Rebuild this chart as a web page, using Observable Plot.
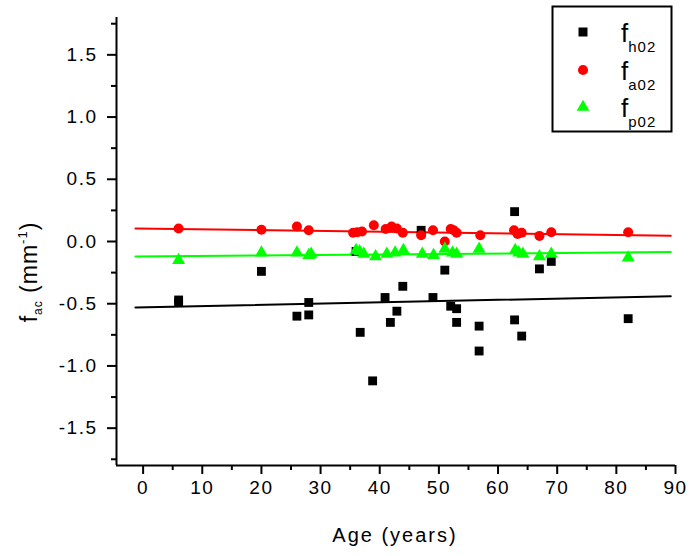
<!DOCTYPE html>
<html><head><meta charset="utf-8">
<script src="https://cdn.jsdelivr.net/npm/d3@7"></script>
<script src="https://cdn.jsdelivr.net/npm/@observablehq/plot@0.6"></script>
<style>
body{margin:0;background:#fff;}
#wrap{position:relative;width:690px;height:556px;}
svg text{letter-spacing:1.5px;}
</style></head><body><div id="wrap"></div>
<script>
// f_h02 (black squares)
const hAge = [6,6,20,26,28,28,36,36.7,38.8,40.9,41.8,42.9,43.9,47,49,51,52,53,53,56.8,56.8,62.8,62.8,64,67,69,82];
const hVal = [-0.47,-0.49,-0.24,-0.60,-0.49,-0.59,-0.08,-0.73,-1.12,-0.45,-0.65,-0.56,-0.36,0.09,-0.45,-0.23,-0.52,-0.54,-0.65,-0.68,-0.88,0.24,-0.63,-0.76,-0.22,-0.16,-0.62];
// f_a02 (red circles)
const aAge = [6,20,26,28,35.5,36.2,37,39,41,42,42.9,43.9,47,49,51,52,52.5,53,57,62.7,63.3,64,67,69,82];
const aVal = [0.105,0.095,0.12,0.09,0.07,0.075,0.08,0.13,0.10,0.12,0.105,0.07,0.05,0.09,0.0,0.10,0.09,0.07,0.05,0.09,0.06,0.07,0.045,0.075,0.075];
// f_p02 (green triangles)
const pAge = [6,20,26,28,28.4,36,36.6,37.3,39.3,41.2,42.6,44,47.2,49.1,51,52.3,53,56.8,62.9,63.5,64.2,67,69,82];
const pVal = [-0.15,-0.09,-0.09,-0.11,-0.10,-0.07,-0.08,-0.10,-0.12,-0.10,-0.09,-0.07,-0.10,-0.11,-0.06,-0.09,-0.10,-0.06,-0.07,-0.09,-0.10,-0.12,-0.10,-0.13];
// linear fit lines (endpoints)
const fitX = [-1.3, 89.2];
const fitH = [-0.53, -0.44];
const fitA = [0.105, 0.046];
const fitP = [-0.12, -0.085];
// axes
const xDomain = [-4.5, 90];
const yDomain = [-1.8, 1.8];
const xTicks = [0,10,20,30,40,50,60,70,80,90];
const xMinor = [5,15,25,35,45,55,65,75,85];
const yTicks = [-1.5,-1.0,-0.5,0.0,0.5,1.0,1.5];
const yMinor = [-1.75,-1.25,-0.75,-0.25,0.25,0.75,1.25,1.75];
const xLabel = "Age (years)";
const legendNames = [["f","h02"],["f","a02"],["f","p02"]];
const colors = ["#000000","#ff0000","#00ff00"];

const pts = (ax, ay) => ax.map((x,i)=>({x, y:ay[i]}));
const H = pts(hAge,hVal), A = pts(aAge,aVal), P = pts(pAge,pVal);
const LH = pts(fitX,fitH), LA = pts(fitX,fitA), LP = pts(fitX,fitP);

const chart = Plot.plot({
  width:690, height:556,
  marginLeft:116, marginRight:15, marginTop:17, marginBottom:91,
  x:{domain:xDomain}, y:{domain:yDomain},
  style:{fontFamily:"'Liberation Sans', Arial, sans-serif", fontSize:"19px", color:"black", background:"white"},
  marks:[
    Plot.axisX(xTicks,{tickSize:9, tickPadding:6, strokeWidth:2, label:null, tickFormat:d=>String(d)}),
    Plot.axisX(xMinor,{tickSize:5, strokeWidth:2, label:null, tickFormat:()=>""}),
    Plot.axisY(yTicks,{tickSize:9, tickPadding:10, strokeWidth:2, label:null, tickFormat:d=>d.toFixed(1)}),
    Plot.axisY(yMinor,{tickSize:5, strokeWidth:2, label:null, tickFormat:()=>""}),
    Plot.ruleX([xDomain[0]],{strokeWidth:2}),
    Plot.ruleY([yDomain[0]],{strokeWidth:2}),
    Plot.line(LH,{x:"x",y:"y",stroke:colors[0],strokeWidth:2}),
    Plot.line(LA,{x:"x",y:"y",stroke:colors[1],strokeWidth:2}),
    Plot.line(LP,{x:"x",y:"y",stroke:colors[2],strokeWidth:2}),
    Plot.dot(H,{x:"x",y:"y",symbol:"square",r:5,fill:colors[0],stroke:"none"}),
    Plot.dot(A,{x:"x",y:"y",symbol:"circle",r:5,fill:colors[1],stroke:"none"}),
    Plot.dot(P,{x:"x",y:"y",symbol:"triangle",r:4.8,fill:colors[2],stroke:"none"})
  ]
});
document.getElementById("wrap").appendChild(chart);

const svg = d3.select(chart);
// x label
svg.append("text").attr("x",395).attr("y",542).attr("text-anchor","middle")
  .attr("font-size",20).style("letter-spacing","2px").text(xLabel);
// y label
const t = svg.append("text").attr("transform","translate(37,272) rotate(-90)")
  .attr("text-anchor","middle").attr("font-size",23).style("letter-spacing","1px");
t.append("tspan").text("f");
t.append("tspan").attr("font-size",12).attr("dy",5).text("ac");
t.append("tspan").attr("dy",-5).text(" (mm");
t.append("tspan").attr("font-size",13).attr("dy",-10).text("-1");
t.append("tspan").attr("dy",10).text(")");
// legend
const lg = svg.append("g");
lg.append("rect").attr("x",552.5).attr("y",6.5).attr("width",119).attr("height",125)
  .attr("fill","white").attr("stroke","black").attr("stroke-width",2);
const rowsY = [32,70,107];
const sym = [d3.symbolSquare, d3.symbolCircle, d3.symbolTriangle];
const sizes = [81, 80, 70];
legendNames.forEach((nm,i)=>{
  lg.append("path").attr("transform",`translate(583,${rowsY[i]})`)
    .attr("d", d3.symbol(sym[i], sizes[i])()).attr("fill",colors[i]);
  const tx = lg.append("text").attr("x",621).attr("y",rowsY[i]+10)
    .attr("font-size",26).attr("text-anchor","start").style("letter-spacing","0px");
  tx.append("tspan").text(nm[0]);
  tx.append("tspan").attr("font-size",15).attr("dy",10).style("letter-spacing","1px").text(nm[1]);
});
</script></body></html>
